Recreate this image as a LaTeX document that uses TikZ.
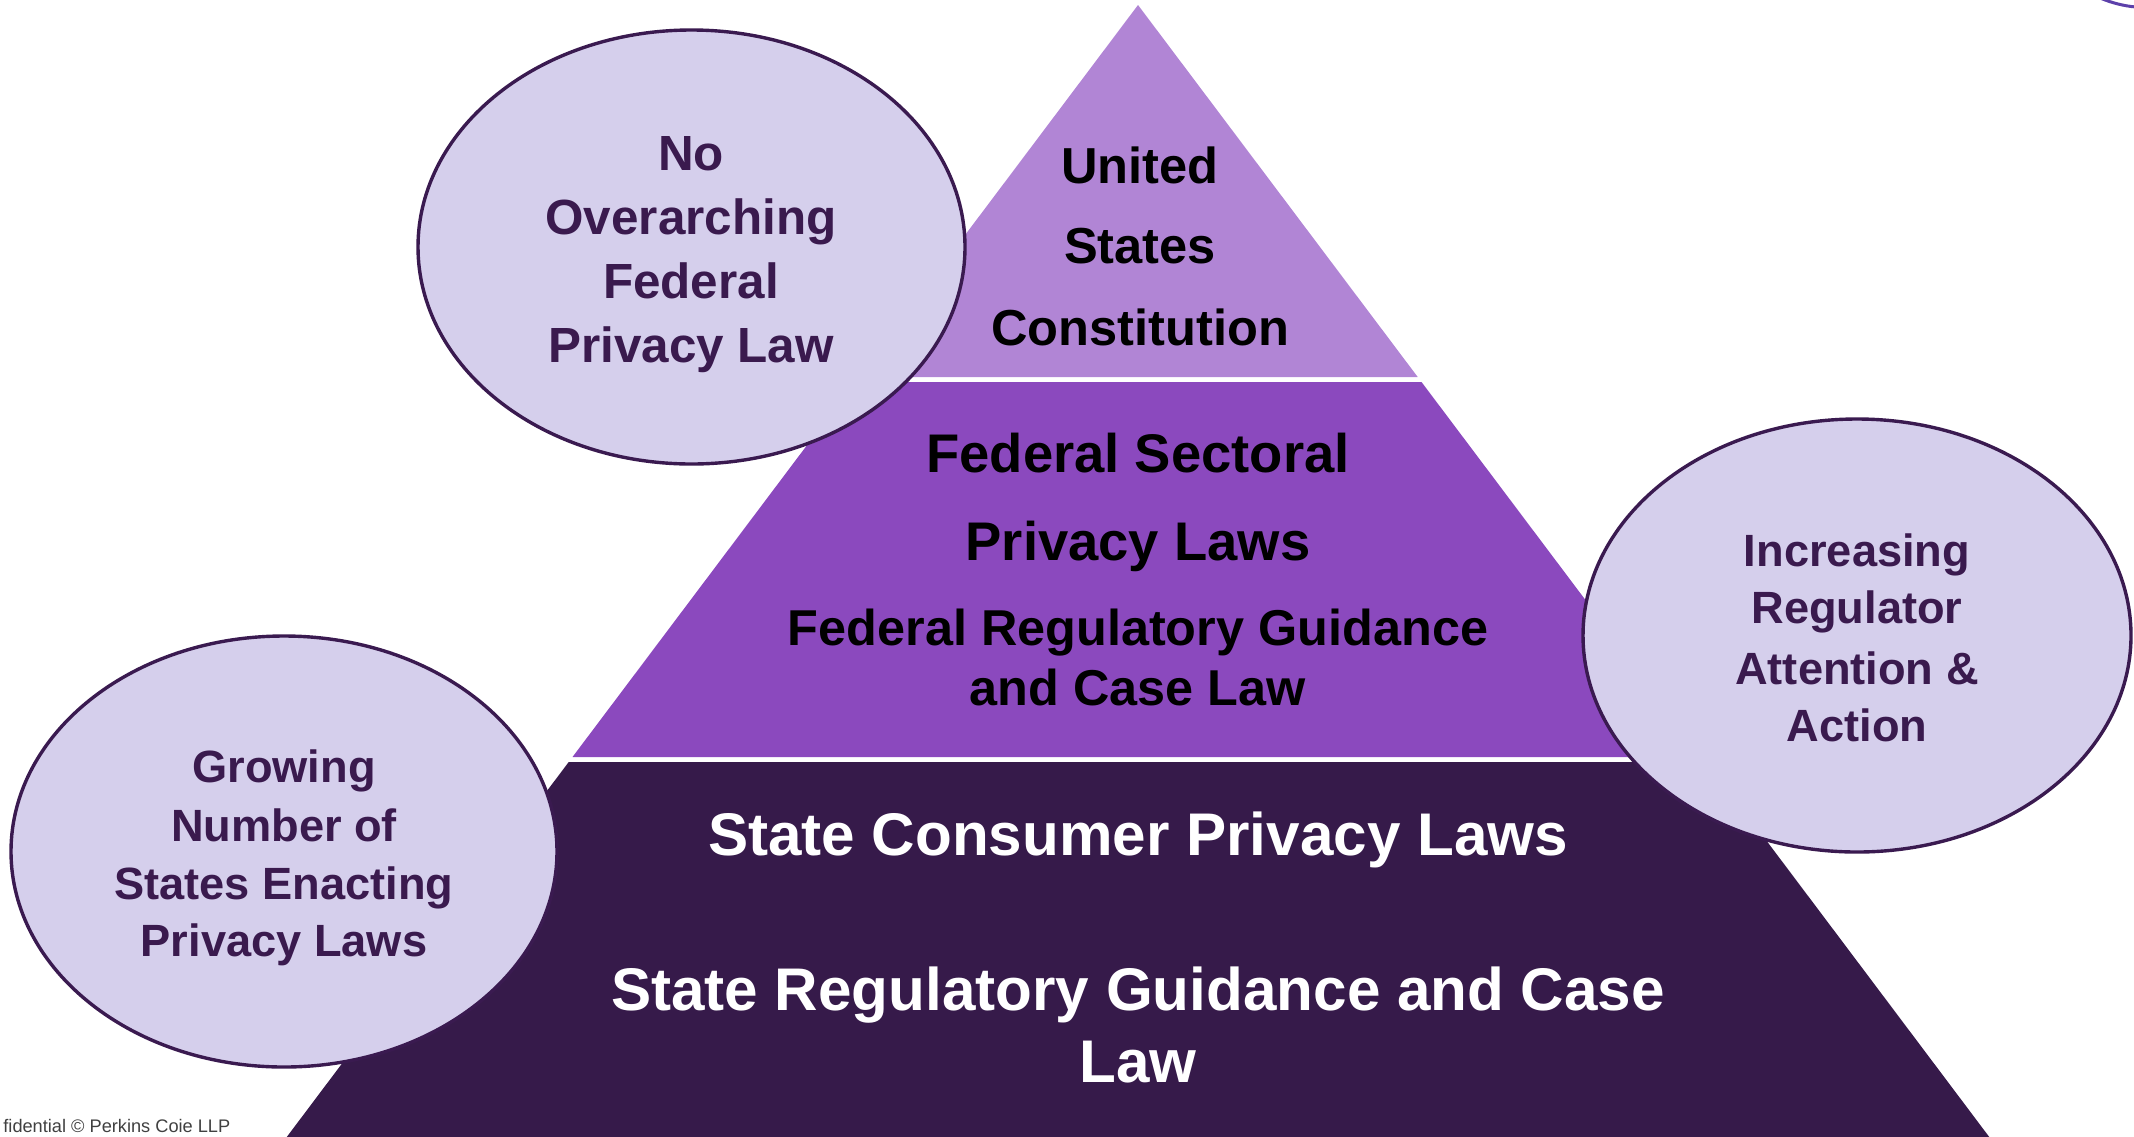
\documentclass[tikz,border=0pt]{standalone}
\usepackage{fontspec}
\setmainfont{Liberation Sans}
\usetikzlibrary{shapes.geometric}

\definecolor{tierone}{RGB}{177,133,213}
\definecolor{tiertwo}{RGB}{139,73,190}
\definecolor{tierthree}{RGB}{54,26,74}
\definecolor{bubblefill}{RGB}{213,207,236}
\definecolor{bubbleline}{RGB}{58,26,80}
\definecolor{bubbleink}{RGB}{58,26,78}
\definecolor{arcline}{RGB}{92,64,170}

\tikzset{
  bubble/.style={ellipse, draw=bubbleline, fill=bubblefill, line width=1.7pt, inner sep=0pt},
  bubbletxt/.style={anchor=base, text=bubbleink, font=\bfseries\fontsize{22.6}{27}\selectfont},
  bigbubbletxt/.style={bubbletxt, font=\bfseries\fontsize{24.7}{29}\selectfont},
  toptxt/.style={anchor=base, font=\bfseries\fontsize{25.3}{30}\selectfont},
  midtxt/.style={anchor=base, font=\bfseries\fontsize{27.2}{32}\selectfont},
  midsmalltxt/.style={anchor=base, font=\bfseries\fontsize{25.2}{30}\selectfont},
  basetxt/.style={anchor=base, text=white, font=\bfseries\fontsize{30.1}{36}\selectfont}
}

\begin{document}
\begin{tikzpicture}[x=0.5pt,y=-0.5pt]
  \useasboundingbox (0,0) rectangle (2134,1136);
  \clip (0,0) rectangle (2134,1136);

  % pyramid, three tiers with thin white gaps
  \fill[tierone] (1138,5) -- (1417.7,377) -- (858.3,377) -- cycle;
  \fill[tiertwo] (854.5,382) -- (1421.5,382) -- (1703.5,757) -- (572.5,757) -- cycle;
  \fill[tierthree] (568.7,762) -- (1707.3,762) -- (1991.5,1140) -- (284.5,1140) -- cycle;

  \node[toptxt] (usc1) at (1140,183) {United};
  \node[toptxt] (usc2) at (1140,263) {States};
  \node[toptxt] (usc3) at (1140,345) {Constitution};

  \node[midtxt] (fed1) at (1138,472) {Federal Sectoral};
  \node[midtxt] (fed2) at (1138,560) {Privacy Laws};
  \node[midsmalltxt] (fed3) at (1138,645) {Federal Regulatory Guidance};
  \node[midsmalltxt] (fed4) at (1138,705) {and Case Law};

  \node[basetxt] (st1) at (1138,855) {State Consumer Privacy Laws};
  \node[basetxt] (st2) at (1138,1010) {State Regulatory Guidance and Case};
  \node[basetxt] (st3) at (1138,1082) {Law};

  % side bubbles
  \node[bubble, minimum width=273.5pt, minimum height=217pt] (nofed) at (691.5,247) {};
  \node[bigbubbletxt] (nofed1) at (691,170) {No};
  \node[bigbubbletxt] (nofed2) at (691,234) {Overarching};
  \node[bigbubbletxt] (nofed3) at (691,298) {Federal};
  \node[bigbubbletxt] (nofed4) at (691,362) {Privacy Law};

  \node[bubble, minimum width=274pt, minimum height=216.5pt] (regattn) at (1857,635.5) {};
  \node[bubbletxt] (reg1) at (1857,566) {Increasing};
  \node[bubbletxt] (reg2) at (1857,623) {Regulator};
  \node[bubbletxt] (reg3) at (1857,684) {Attention \&};
  \node[bubbletxt] (reg4) at (1857,741) {Action};

  \node[bubble, minimum width=273pt, minimum height=215.5pt] (growing) at (284,851.5) {};
  \node[bubbletxt] (grow1) at (284,782) {Growing};
  \node[bubbletxt] (grow2) at (284,841) {Number of};
  \node[bubbletxt] (grow3) at (284,899) {States Enacting};
  \node[bubbletxt] (grow4) at (284,956) {Privacy Laws};

  % bits at the edges
  \draw[arcline, line width=1.5pt] (2100,-2) .. controls (2112,3) and (2124,6) .. (2136,7);
  \node[anchor=base west, inner sep=0pt, text=black!75, font=\fontsize{9.1}{11}\selectfont] (footer) at (3,1132) {fidential © Perkins Coie LLP};
\end{tikzpicture}
\end{document}
